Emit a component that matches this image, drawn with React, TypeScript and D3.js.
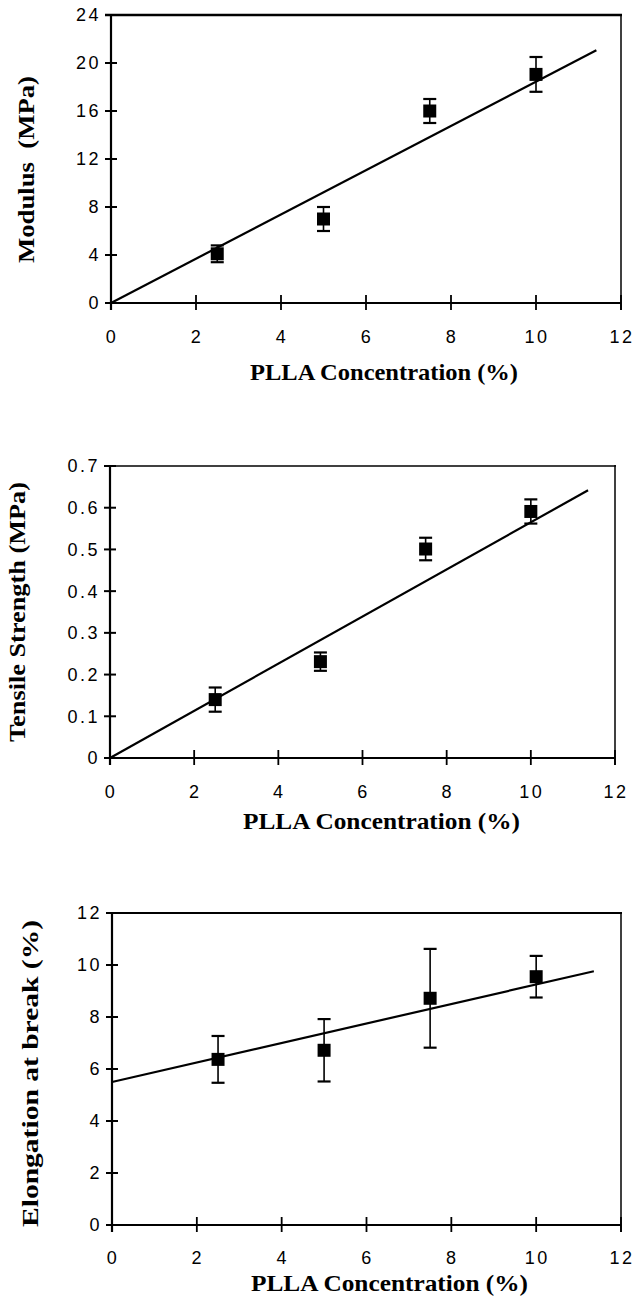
import React from "react";
import * as d3 from "d3";

// ---- data ----
const concentration = [2.5, 5, 7.5, 10];
const modulus = [4.1, 7.0, 16.0, 19.05];
const modulusErr = [0.7, 1.0, 1.0, 1.45];
const tensile = [0.14, 0.231, 0.501, 0.591];
const tensileErr = [0.029, 0.022, 0.027, 0.029];
const elongation = [6.37, 6.72, 8.72, 9.55];
const elongationErr = [0.9, 1.2, 1.9, 0.8];
const fitIntercepts = [0, 0, 5.5];
const fitSlopes = [1.845, 0.0565, 0.375];
const fitEnds = [11.42, 11.36, 11.36];
const xTicks = [0, 2, 4, 6, 8, 10, 12];
const modulusTicks = ["0", "4", "8", "12", "16", "20", "24"];
const tensileTicks = ["0", "0.1", "0.2", "0.3", "0.4", "0.5", "0.6", "0.7"];
const elongationTicks = ["0", "2", "4", "6", "8", "10", "12"];
const yTitles = ["Modulus  (MPa)", "Tensile Strength (MPa)", "Elongation at break (%)"];
const xTitle = "PLLA Concentration (%)";

const series = [modulus, tensile, elongation];
const seriesErr = [modulusErr, tensileErr, elongationErr];
const yTickSets = [modulusTicks, tensileTicks, elongationTicks];

// ---- layout (pixels) ----
const panels = [
  { left: 111, right: 621, top: 15, bottom: 303, topW: 2.6, xLab: 343, xTitleBase: 380, xTitleSpan: [250, 518], yTitleX: 34, yTitleSpan: [76, 263] },
  { left: 110, right: 615, top: 466, bottom: 758, topW: 1.6, xLab: 798, xTitleBase: 829, xTitleSpan: [243, 520], yTitleX: 25, yTitleSpan: [482, 742] },
  { left: 112, right: 621, top: 913, bottom: 1225, topW: 2.2, xLab: 1264, xTitleBase: 1291, xTitleSpan: [251, 528], yTitleX: 38, yTitleSpan: [920, 1227] },
];

const tickFont = "'Liberation Sans', Arial, Helvetica, sans-serif";
const titleFont = "'Liberation Serif', 'Times New Roman', Times, serif";

function Panel({ idx }: { idx: number }) {
  const p = panels[idx];
  const yTicks = yTickSets[idx];
  const yMax = +yTicks[yTicks.length - 1];
  const x = d3.scaleLinear().domain([0, 12]).range([p.left, p.right]);
  const y = d3.scaleLinear().domain([0, yMax]).range([p.bottom, p.top]);
  const vals = series[idx];
  const errs = seriesErr[idx];
  const fitX = [0, fitEnds[idx]];
  const line = d3
    .line<number>()
    .x((d) => x(d))
    .y((d) => y(fitIntercepts[idx] + fitSlopes[idx] * d));
  const m = 13;
  const cap = 13;
  const yc = (p.yTitleSpan[0] + p.yTitleSpan[1]) / 2;
  return (
    <g>
      {/* frame */}
      <line x1={p.left - 6} x2={p.right + 1} y1={p.top} y2={p.top} stroke="#000" strokeWidth={p.topW} />
      <line x1={p.right} x2={p.right} y1={p.top - 1} y2={p.bottom + 7} stroke="#000" strokeWidth={1.5} />
      <line x1={p.left} x2={p.left} y1={p.top} y2={p.bottom + 7} stroke="#000" strokeWidth={2.2} />
      <line x1={p.left - 1} x2={p.right} y1={p.bottom} y2={p.bottom} stroke="#000" strokeWidth={2.2} />
      {/* y ticks */}
      {yTicks.map((t) => (
        <g key={"y" + t}>
          <line x1={p.left - 6} x2={p.left + 6} y1={y(+t)} y2={y(+t)} stroke="#000" strokeWidth={2} />
          <text x={p.left - 10} y={y(+t)} dy="0.36em" textAnchor="end" fontFamily={tickFont} fontSize={18} letterSpacing={2.5}>
            {t}
          </text>
        </g>
      ))}
      {/* x ticks */}
      {xTicks.map((t) => (
        <g key={"x" + t}>
          <line x1={x(t)} x2={x(t)} y1={p.bottom - 8} y2={p.bottom + 7} stroke="#000" strokeWidth={1.8} />
          <text x={x(t) + 1} y={p.xLab} textAnchor="middle" fontFamily={tickFont} fontSize={18} letterSpacing={2.5}>
            {t}
          </text>
        </g>
      ))}
      {/* fit line */}
      <path d={line(fitX) || ""} fill="none" stroke="#000" strokeWidth={2.2} />
      {/* error bars + markers */}
      {concentration.map((c, i) => {
        const cx = x(c);
        const y1 = y(vals[i] + errs[i]);
        const y0 = y(vals[i] - errs[i]);
        return (
          <g key={"p" + i}>
            <line x1={cx} x2={cx} y1={y1} y2={y0} stroke="#000" strokeWidth={1.6} />
            <line x1={cx - cap / 2} x2={cx + cap / 2} y1={y1} y2={y1} stroke="#000" strokeWidth={2.2} />
            <line x1={cx - cap / 2} x2={cx + cap / 2} y1={y0} y2={y0} stroke="#000" strokeWidth={2.2} />
            <rect x={cx - m / 2} y={y(vals[i]) - m / 2} width={m} height={m} fill="#000" />
          </g>
        );
      })}
      {/* titles */}
      <text
        x={p.xTitleSpan[0]}
        y={p.xTitleBase}
        fontFamily={titleFont}
        fontWeight="bold"
        fontSize={24}
        textLength={p.xTitleSpan[1] - p.xTitleSpan[0]}
        lengthAdjust="spacingAndGlyphs"
      >
        {xTitle}
      </text>
      <text
        transform={`translate(${p.yTitleX},${yc}) rotate(-90)`}
        x={-(p.yTitleSpan[1] - p.yTitleSpan[0]) / 2}
        y={0}
        fontFamily={titleFont}
        fontWeight="bold"
        fontSize={24}
        textLength={p.yTitleSpan[1] - p.yTitleSpan[0]}
        lengthAdjust="spacingAndGlyphs"
        style={{ whiteSpace: "pre" }}
      >
        {yTitles[idx]}
      </text>
    </g>
  );
}

export default function App() {
  return (
    <svg
      width={635}
      height={1297}
      viewBox="0 0 635 1297"
      style={{ position: "absolute", left: 0, top: 0, background: "#fff" }}
    >
      <rect width={635} height={1297} fill="#fff" />
      {panels.map((_, i) => (
        <Panel key={i} idx={i} />
      ))}
    </svg>
  );
}
